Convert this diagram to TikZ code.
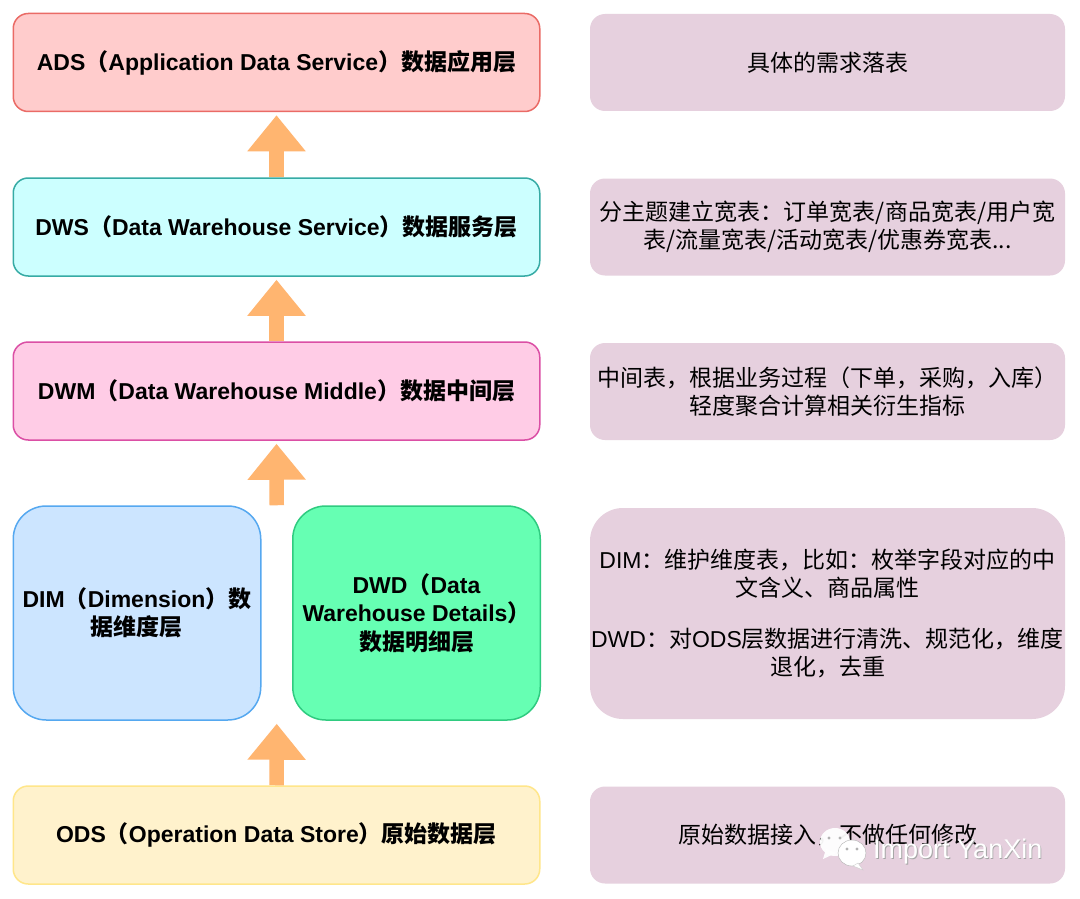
\documentclass[tikz,border=0pt]{standalone}
\usepackage{fontspec}
\setmainfont{Liberation Sans}
\newfontfamily\cjkfont{Noto Sans CJK SC}
\newcommand{\zh}[1]{{\cjkfont #1}}
\usetikzlibrary{arrows.meta,calc,positioning}
\definecolor{adsfill}{HTML}{FFCCCC}
\definecolor{adsline}{HTML}{EA6B66}
\definecolor{dwsfill}{HTML}{CCFFFF}
\definecolor{dwsline}{HTML}{36ABA5}
\definecolor{dwmfill}{HTML}{FFCCE6}
\definecolor{dwmline}{HTML}{DB4FA5}
\definecolor{dimfill}{HTML}{CCE5FF}
\definecolor{dimline}{HTML}{55A8F0}
\definecolor{dwdfill}{HTML}{66FFB3}
\definecolor{dwdline}{HTML}{2FCB80}
\definecolor{odsfill}{HTML}{FFF2CC}
\definecolor{odsline}{HTML}{FFE68A}
\definecolor{notefill}{HTML}{E6D0DE}
\definecolor{uparrow}{HTML}{FFB570}
\tikzset{
  layerbox/.style={shape=rectangle,rounded corners=15pt,line width=1.5pt,align=center,inner sep=0pt,
    font=\fontsize{23}{28.5}\selectfont\bfseries,minimum width=526.5pt,minimum height=98pt},
  tallbox/.style={layerbox,rounded corners=33pt,minimum width=247.5pt,minimum height=214pt},
  notebox/.style={shape=rectangle,rounded corners=15pt,fill=notefill,align=center,inner sep=0pt,
    font=\fontsize{23}{28.5}\selectfont,minimum width=475pt,minimum height=97pt},
  stepup/.style={-{Triangle[width=56pt,length=36pt]},draw=uparrow,line width=14.5pt,shorten >=3pt},
  mark text/.style={font=\fontsize{27}{27}\selectfont,inner sep=0pt}
}
\begin{document}
\begin{tikzpicture}[x=1pt,y=-1pt]
\useasboundingbox (0,0) rectangle (1080,899);
\fill[white] (0,0) rectangle (1080,899);

\node[layerbox,draw=adsline,fill=adsfill] (ads) at (276.5,62.5) {ADS\zh{（}Application Data Service\zh{）数据应用层}};
\node[layerbox,draw=dwsline,fill=dwsfill] (dws) at (276.5,227) {DWS\zh{（}Data Warehouse Service\zh{）数据服务层}};
\node[layerbox,draw=dwmline,fill=dwmfill] (dwm) at (276.5,391) {DWM\zh{（}Data Warehouse Middle\zh{）数据中间层}};
\node[tallbox,draw=dimline,fill=dimfill] (dim) at (137,613) {DIM\zh{（}Dimension\zh{）数}\\\zh{据维度层}};
\node[tallbox,draw=dwdline,fill=dwdfill] (dwd) at (416.5,613) {DWD\zh{（}Data\\Warehouse Details\zh{）}\\\zh{数据明细层}};
\node[layerbox,draw=odsline,fill=odsfill] (ods) at (276.5,835) {ODS\zh{（}Operation Data Store\zh{）原始数据层}};

\node[notebox] (adsnote) at (827.5,62.5) {\zh{具体的需求落表}};
\node[notebox] (dwsnote) at (827.5,227) {\zh{分主题建立宽表：订单宽表/商品宽表/用户宽}\\\zh{表/流量宽表/活动宽表/优惠券宽表...}};
\node[notebox] (dwmnote) at (827.5,391.5) {\zh{中间表，根据业务过程（下单，采购，入库）}\\\zh{轻度聚合计算相关衍生指标}};
\node[notebox,rounded corners=33pt,minimum height=211pt] (dimnote) at (827.5,613.5) {DIM\zh{：维护维度表，比如：枚举字段对应的中}\\\zh{文含义、商品属性}\\[22pt]DWD\zh{：对}ODS\zh{层数据进行清洗、规范化，维度}\\\zh{退化，去重}};
\node[notebox] (odsnote) at (827.5,835) {\zh{原始数据接入，不做任何修改}};

\coordinate (midtop) at ($(dim.north)!0.5!(dwd.north)$);
\coordinate (midbot) at ($(dim.south)!0.5!(dwd.south)$);

\draw[stepup] (dws.north) -- (ads.south);
\draw[stepup] (dwm.north) -- (dws.south);
\draw[stepup] (midtop) -- (dwm.south);
\draw[stepup] (ods.north) -- (midbot);

% watermark
\fill[white,opacity=0.95] (835,842) ellipse (15 and 14);
\fill[white,opacity=0.95] (826,849) -- (823,859) -- (836,853) -- cycle;
\draw[gray!60,fill=white] (852,853) ellipse (14 and 13);
\fill[white,draw=gray!40] (858,863) -- (863,870) -- (853,866) -- cycle;
\fill[gray!60] (829,838) circle (1.6) (840,838) circle (1.6) (847,849) circle (1.6) (857,849) circle (1.6);
\node[mark text,text=gray!70,anchor=west] (markshadow) at (873.8,852.8) {Import YanXin};
\node[mark text,text=white,anchor=west] (marktext) at (873,852) {Import YanXin};
\end{tikzpicture}
\end{document}
